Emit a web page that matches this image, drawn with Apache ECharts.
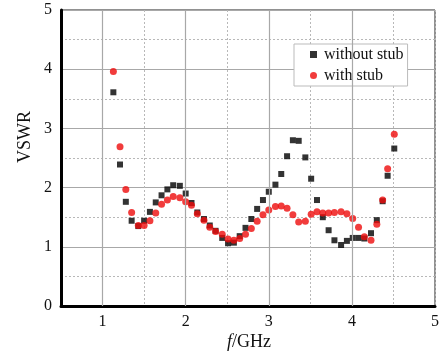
<!DOCTYPE html>
<html><head><meta charset="utf-8">
<script src="https://cdn.jsdelivr.net/npm/echarts@6/dist/echarts.min.js"></script>
<style>html,body{margin:0;padding:0;background:#fff}#c{width:442px;height:354px}</style>
</head><body><div id="c"></div>
<script>
const freq = [1.13,1.21,1.28,1.35,1.43,1.50,1.57,1.64,1.71,1.78,1.85,1.93,2.00,2.07,2.14,2.22,2.29,2.36,2.44,2.51,2.58,2.65,2.72,2.79,2.86,2.93,3.00,3.08,3.15,3.22,3.29,3.36,3.44,3.51,3.58,3.65,3.72,3.79,3.87,3.94,4.01,4.08,4.15,4.23,4.30,4.37,4.43,4.51];
const withoutStub = [3.61,2.39,1.76,1.44,1.35,1.44,1.59,1.75,1.87,1.97,2.04,2.03,1.90,1.74,1.58,1.47,1.36,1.27,1.15,1.06,1.07,1.18,1.32,1.47,1.64,1.79,1.93,2.05,2.23,2.53,2.80,2.79,2.51,2.15,1.79,1.50,1.28,1.11,1.03,1.10,1.15,1.15,1.14,1.23,1.45,1.77,2.20,2.66];
const withStub = [3.96,2.69,1.97,1.58,1.36,1.36,1.44,1.57,1.72,1.79,1.85,1.83,1.76,1.70,1.56,1.45,1.33,1.26,1.21,1.13,1.11,1.14,1.21,1.31,1.43,1.54,1.62,1.68,1.69,1.65,1.54,1.42,1.43,1.55,1.59,1.57,1.57,1.58,1.59,1.56,1.48,1.33,1.17,1.11,1.38,1.79,2.32,2.90];
const seriesNames = ['without stub','with stub'];
const xMajor = [1,2,3,4];

const FONT = '"Liberation Serif","Times New Roman",serif';
const chart = echarts.init(document.getElementById('c'), null, {renderer:'canvas'});
chart.setOption({
  animation:false,
  backgroundColor:'#fff',
  grid:{left:61,right:3,top:10,bottom:48,show:true,borderColor:'#222',borderWidth:1},
  xAxis:{type:'value',min:0.5,max:5,interval:0.5,
    axisLine:{show:true,onZero:false,lineStyle:{color:'#000',width:3}},
    axisTick:{show:false},
    axisLabel:{margin:8,color:'#111',fontFamily:FONT,fontSize:16,
      formatter:v=>Number.isInteger(v)?String(v):''},
    splitLine:{show:true,lineStyle:{color:'#b8b8b8',type:[2,2],width:1}}},
  yAxis:{type:'value',min:0,max:5,interval:1,
    axisLine:{show:true,onZero:false,lineStyle:{color:'#000',width:3}},
    axisTick:{show:false},
    axisLabel:{margin:9,color:'#111',fontFamily:FONT,fontSize:16},
    splitLine:{show:true,lineStyle:{color:'#a8a8a8',width:1.2}},
    minorTick:{show:false,splitNumber:2},
    minorSplitLine:{show:true,lineStyle:{color:'#b8b8b8',type:[2,2],width:1}}},
  legend:{orient:'vertical',left:294,top:44,
    data:[{name:seriesNames[0],icon:'rect'},{name:seriesNames[1],icon:'circle'}],
    itemWidth:7,itemHeight:7,itemGap:4,
    backgroundColor:'#fff',borderColor:'#bbb',borderWidth:1,
    padding:[2,4,2,16],
    textStyle:{fontFamily:FONT,fontSize:16,color:'#111',lineHeight:17,padding:[0,0,0,2]}},
  series:[
    {type:'scatter',name:'grid',data:[],silent:true,
      markLine:{silent:true,symbol:['none','none'],label:{show:false},
        lineStyle:{color:'#a8a8a8',type:'solid',width:1.2},
        data:xMajor.map(v=>({xAxis:v}))}},
    {type:'scatter',name:seriesNames[0],symbol:'rect',symbolSize:6,z:3,
      itemStyle:{color:'#000'},
      data:freq.map((f,i)=>[f,withoutStub[i]])},
    {type:'scatter',name:seriesNames[1],symbol:'circle',symbolSize:7,z:4,
      itemStyle:{color:'#ee0b0b'},
      data:freq.map((f,i)=>[f,withStub[i]])}
  ],
  graphic:[
    {type:'text',rotation:Math.PI/2,x:25,y:137,
      style:{text:'VSWR',font:'18px '+FONT,fill:'#111',align:'center',verticalAlign:'middle'}},
    {type:'text',
      style:{text:'{i|f}/GHz',x:249,y:342,align:'center',verticalAlign:'middle',
        font:'18px '+FONT,fill:'#111',
        rich:{i:{fontStyle:'italic',fontFamily:FONT,fontSize:18,fill:'#111'}}}}
  ]
});
</script></body></html>
